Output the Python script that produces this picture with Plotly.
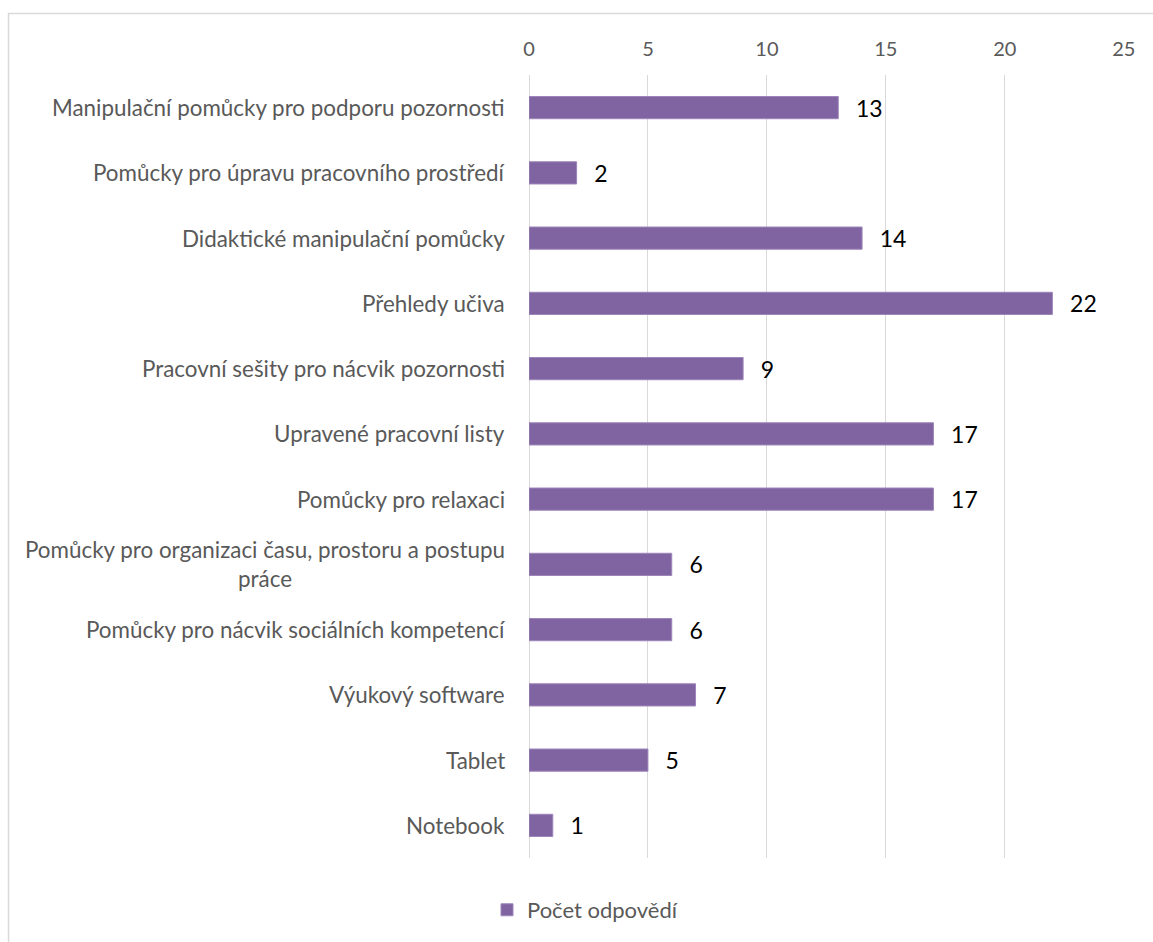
import plotly.graph_objects as go

# Survey: which aids are used, number of responses per category
categories = [
    "Manipulační pomůcky pro podporu pozornosti",
    "Pomůcky pro úpravu pracovního prostředí",
    "Didaktické manipulační pomůcky",
    "Přehledy učiva",
    "Pracovní sešity pro nácvik pozornosti",
    "Upravené pracovní listy",
    "Pomůcky pro relaxaci",
    "Pomůcky pro organizaci času, prostoru a postupu<br>práce",
    "Pomůcky pro nácvik sociálních kompetencí",
    "Výukový software",
    "Tablet",
    "Notebook",
]
counts = [13, 2, 14, 22, 9, 17, 17, 6, 6, 7, 5, 1]
series_name = "Počet odpovědí"
x_ticks = [0, 5, 10, 15, 20, 25]

FONT = "Lato"
BAR = "#8064A2"
GRID = "#D9D9D9"
TXT = "#595959"

W, H = 1153, 942
ML, MR, MT, MB = 529, 29, 75, 84
plot_w = W - ML - MR
plot_h = H - MT - MB


def px_to_paper_x(px):
    return (px - ML) / plot_w


def px_to_paper_y(py):
    return (H - MB - py) / plot_h


fig = go.Figure()
fig.add_trace(go.Bar(
    x=counts,
    y=list(range(len(categories))),
    orientation="h",
    name=series_name,
    marker=dict(color=BAR, line=dict(color="#9D86BA", width=1)),
    width=0.34,
    text=counts,
    texttemplate="  \u2009%{x}",
    textposition="outside",
    constraintext="none",
    textfont=dict(family=FONT, size=23, color="#000000"),
    cliponaxis=False,
    showlegend=True,
))

# Category labels (centred multi-line text, right-aligned block)
annotations = []
for i, cat in enumerate(categories):
    annotations.append(dict(
        x=0, xref="paper", xanchor="right", xshift=-22,
        y=i, yref="y", yanchor="middle",
        text=cat, showarrow=False, align="center",
        font=dict(family=FONT, size=22.4, color=TXT),
    ))

fig.update_layout(
    width=W, height=H,
    margin=dict(l=ML, r=MR, t=MT, b=MB),
    paper_bgcolor="white",
    plot_bgcolor="white",
    font=dict(family=FONT, size=22, color=TXT),
    bargap=0.66,
    annotations=annotations,
    xaxis=dict(
        side="top",
        range=[0, 25.01],
        tickvals=x_ticks,
        ticktext=[str(v) for v in x_ticks],
        showgrid=True, gridcolor=GRID, gridwidth=1,
        zeroline=True, zerolinecolor=GRID, zerolinewidth=1,
        showline=False, ticks="",
        tickfont=dict(family=FONT, size=20, color=TXT),
        ticklabelstandoff=14,
    ),
    yaxis=dict(
        range=[len(categories) - 0.5, -0.5],
        showticklabels=False, showgrid=False, zeroline=False, ticks="",
    ),
    legend=dict(
        orientation="h",
        xref="container", x=487 / W, xanchor="left",
        yref="container", y=0.034, yanchor="middle",
        font=dict(family=FONT, size=22, color=TXT),
        itemwidth=30,
    ),
    shapes=[dict(
        type="rect", xref="paper", yref="paper",
        x0=px_to_paper_x(8.5), x1=px_to_paper_x(1170),
        y0=px_to_paper_y(960), y1=px_to_paper_y(13.5),
        line=dict(color=GRID, width=1.5), fillcolor="rgba(0,0,0,0)",
        layer="below",
    )],
)

fig.write_html("out.html")
